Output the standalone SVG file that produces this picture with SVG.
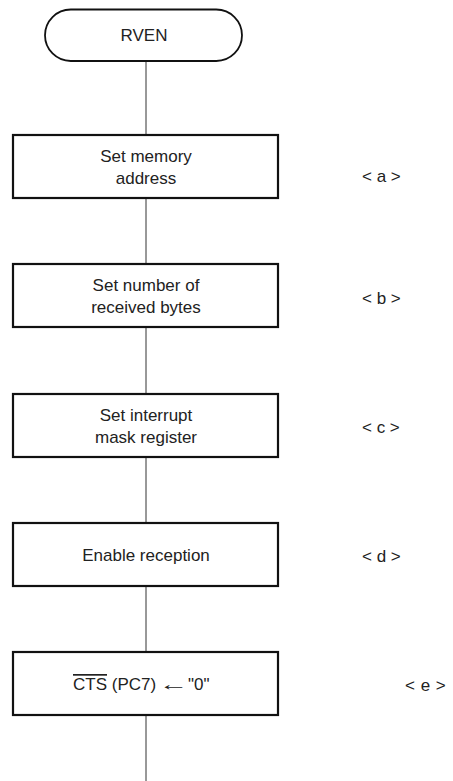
<svg xmlns="http://www.w3.org/2000/svg" width="453" height="781" viewBox="0 0 453 781">
<style>
.box{fill:#fff;stroke:#111;stroke-width:2.2}
.term{fill:#fff;stroke:#111;stroke-width:1.8}
.t{font-family:"Liberation Sans",Arial,sans-serif;font-size:17px;fill:#222;text-anchor:middle}
.ts{font-family:"Liberation Sans",Arial,sans-serif;font-size:17px;fill:#222}
.lbl{font-family:"Liberation Sans",Arial,sans-serif;font-size:17px;fill:#222}
.conn{stroke:#333;stroke-width:1;fill:none}
</style>
<rect width="453" height="781" fill="#fff"/>
<g id="connectors">
<line class="conn" x1="146" y1="61" x2="146" y2="135"/>
<line class="conn" x1="146" y1="198" x2="146" y2="264"/>
<line class="conn" x1="146" y1="327" x2="146" y2="394"/>
<line class="conn" x1="146" y1="457" x2="146" y2="523"/>
<line class="conn" x1="146" y1="586" x2="146" y2="652"/>
<line class="conn" x1="146" y1="715" x2="146" y2="781"/>
</g>
<g id="start">
<rect class="term" x="45" y="9.5" width="197" height="51.5" rx="25.75"/>
<text class="t" x="144" y="41">RVEN</text>
</g>
<g id="a">
<rect class="box" x="13" y="135" width="265" height="63"/>
<text class="t" x="146" y="162">Set memory</text>
<text class="t" x="146" y="184">address</text>
</g>
<g id="b">
<rect class="box" x="13" y="264" width="265" height="63"/>
<text class="t" x="146" y="291">Set number of</text>
<text class="t" x="146" y="313">received bytes</text>
</g>
<g id="c">
<rect class="box" x="13" y="394" width="265" height="63"/>
<text class="t" x="146" y="421">Set interrupt</text>
<text class="t" x="146" y="443">mask register</text>
</g>
<g id="d">
<rect class="box" x="13" y="523" width="265" height="63"/>
<text class="t" x="146" y="561">Enable reception</text>
</g>
<g id="e">
<rect class="box" x="13" y="652" width="265" height="63"/>
<text class="ts" x="73" y="690"><tspan style="text-decoration:overline">CTS</tspan> (PC7)</text>
<text class="ts" transform="translate(159,690) scale(1.75,1)" x="0" y="0">←</text>
<text class="ts" x="188" y="690">"0"</text>
</g>
<g id="labels">
<text class="lbl" x="362" y="182">&lt; a &gt;</text>
<text class="lbl" x="362" y="304">&lt; b &gt;</text>
<text class="lbl" x="362" y="433">&lt; c &gt;</text>
<text class="lbl" x="362" y="562">&lt; d &gt;</text>
<text class="lbl" x="405" y="691" style="word-spacing:1px">&lt; e &gt;</text>
</g>
</svg>
